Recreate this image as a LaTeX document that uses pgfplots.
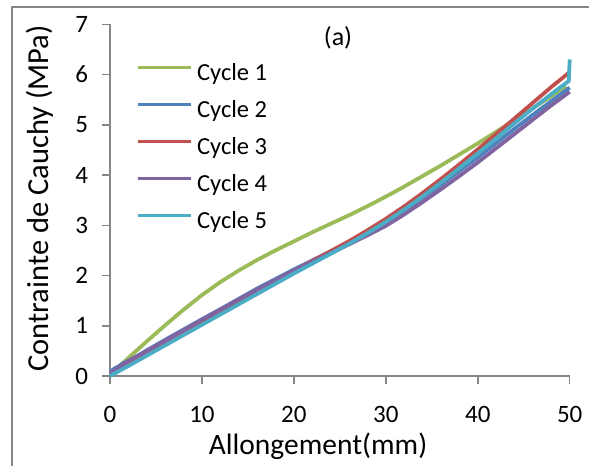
\documentclass[border=0pt]{standalone}
\usepackage{pgfplots}
\pgfplotsset{compat=1.18}
\usepackage{fontspec}
\setmainfont{Carlito}
\definecolor{axisgray}{RGB}{134,134,134}
\definecolor{cA}{RGB}{155,187,89}
\definecolor{cB}{RGB}{79,129,189}
\definecolor{cC}{RGB}{192,80,77}
\definecolor{cD}{RGB}{128,100,162}
\definecolor{cE}{RGB}{75,172,198}
\begin{document}
\begin{tikzpicture}
\useasboundingbox (-110bp,-90bp) rectangle (479bp,376bp);
\draw[axisgray, line width=1.5bp] (-98bp,-95bp) -- (-98bp,369bp) -- (485bp,369bp);
\begin{axis}[
  at={(0,0)}, anchor=south west,
  scale only axis, width=459.7bp, height=351.7bp,
  xmin=0, xmax=50, ymin=0, ymax=7,
  xtick={0,10,20,30,40,50}, ytick={0,1,2,3,4,5,6,7},
  axis x line*=bottom, axis y line*=left,
  axis line style={-, draw=axisgray, line width=1.5bp},
  every inner x axis line/.append style={-},
  every outer x axis line/.append style={-},
  every inner y axis line/.append style={-},
  every outer y axis line/.append style={-},
  tick align=outside, major tick length=7.5bp,
  tick style={draw=axisgray, line width=1.5bp},
  /pgf/number format/assume math mode=true,
  ticklabel style={font=\fontsize{25bp}{29bp}\selectfont},
  xticklabel style={yshift=-19bp},
  yticklabel style={xshift=-11bp},
  clip=false,
  xlabel={Allongement(mm)},
  xlabel style={at={(axis description cs:0.4525,-0.2246)}, anchor=base, font=\fontsize{29.5bp}{34bp}\selectfont},
  ylabel={Contrainte de Cauchy (MPa)},
  ylabel style={at={(axis description cs:-0.1338,0.505)}, anchor=base, rotate=0, font=\fontsize{30.5bp}{35bp}\selectfont},
  title={(a)},
  title style={at={(axis description cs:0.496,0.9227)}, anchor=base, font=\fontsize{26bp}{30bp}\selectfont},
  legend cell align=left,
  legend image code/.code={\draw[#1, line width=2.5bp] (0bp,6bp) -- (53bp,6bp);},
  legend style={draw=none, fill=none, at={(axis description cs:0.058,0.8956)}, anchor=north west,
    inner sep=0pt, outer sep=0pt, row sep=12bp, column sep=5bp,
    font=\fontsize{24.5bp}{28bp}\selectfont,
    nodes={inner sep=0pt, text height=19bp, text depth=6bp}},
]
\addplot[cA, line width=3.8bp] coordinates {
(0,0.03)(2,0.36)(4,0.69)(6,1.01)(8,1.32)(10,1.61)(12,1.87)(14,2.1)(16,2.31)(18,2.5)
(20,2.68)(22,2.86)(24,3.03)(26,3.2)(28,3.38)(30,3.57)(32,3.77)(34,3.98)(36,4.19)(38,4.41)
(40,4.63)(42,4.86)(44,5.09)(46,5.33)(48,5.57)(49.6,5.77)};
\addlegendentry{Cycle 1}
\addplot[cB, line width=3.8bp] coordinates {
(0,0.08)(0.5,0.15)(1,0.2)(1.5,0.26)(2,0.3)(3,0.4)(4,0.51)(6,0.72)(8,0.925)(10,1.13)
(12,1.33)(14,1.535)(16,1.74)(18,1.93)(20,2.12)(22,2.30)(24,2.48)(26,2.665)(28,2.86)
(30,3.07)(32,3.30)(34,3.55)(36,3.81)(38,4.08)(40,4.35)(42,4.635)(44,4.92)(46,5.2)(48,5.47)(50,5.74)};
\addlegendentry{Cycle 2}
\addplot[cC, line width=3.8bp] coordinates {
(0,0.03)(2,0.25)(4,0.45)(6,0.655)(8,0.86)(10,1.07)(12,1.27)(14,1.475)(16,1.68)(18,1.88)
(20,2.09)(22,2.29)(24,2.485)(26,2.685)(28,2.9)
(30,3.128)(32,3.376)(34,3.642)(36,3.922)(38,4.212)(40,4.51)(42,4.818)(44,5.126)(46,5.439)
(48,5.752)(49,5.9)(50,6.05)};
\addlegendentry{Cycle 3}
\addplot[cD, line width=3.8bp] coordinates {
(0,0.05)(2,0.3)(4,0.5)(6,0.705)(8,0.91)(10,1.12)(12,1.32)(14,1.525)(16,1.72)(18,1.91)
(20,2.10)(22,2.27)(24,2.445)(26,2.62)(28,2.80)
(30,2.988)(32,3.216)(34,3.462)(36,3.718)(38,3.98)(40,4.25)(42,4.534)(44,4.818)(46,5.104)
(48,5.386)(50,5.656)};
\addlegendentry{Cycle 4}
\addplot[cE, line width=3.8bp] coordinates {
(0,0.0)(2,0.2)(4,0.405)(6,0.61)(8,0.815)(10,1.02)(12,1.224)(14,1.428)(16,1.632)(18,1.836)
(20,2.04)(22,2.236)(24,2.432)(26,2.632)(28,2.842)
(30,3.068)(32,3.312)(34,3.574)(36,3.85)(38,4.136)(40,4.43)(42,4.73)(44,5.03)(46,5.326)
(48,5.612)(49,5.749)(49.9,5.87)(50,6.3)};
\addlegendentry{Cycle 5}
\end{axis}
\end{tikzpicture}
\end{document}
